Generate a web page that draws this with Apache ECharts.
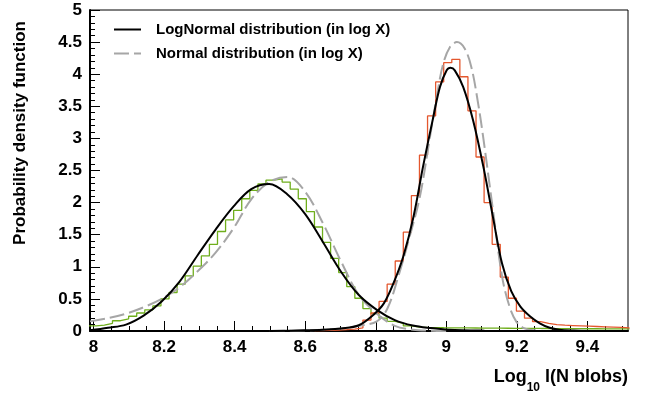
<!DOCTYPE html>
<html>
<head>
<meta charset="utf-8">
<script src="https://cdn.jsdelivr.net/npm/echarts@6/dist/echarts.min.js"></script>
<style>
html, body { margin: 0; padding: 0; background: #fff; }
#chart { width: 647px; height: 396px; }
</style>
</head>
<body>
<div id="chart"></div>
<script>
// histogram binning (both samples share it)
const binStart = 7.985;
const binWidth = 0.0229;

// first sample (green) and second sample (red), one value per bin
const greenHist = [0.08, 0.09, 0.12, 0.16, 0.19, 0.23, 0.28, 0.33, 0.39, 0.50,
    0.60, 0.73, 0.86, 1.01, 1.17, 1.35, 1.55, 1.73, 1.88, 2.06,
    2.19, 2.29, 2.35, 2.37, 2.32, 2.21, 2.06, 1.86, 1.62, 1.38,
    1.13, 0.91, 0.69, 0.51, 0.35, 0.27, 0.20, 0.15, 0.12, 0.08,
    0.06, 0.055, 0.053, 0.051, 0.05, 0.049, 0.048, 0.047, 0.046, 0.045,
    0.044, 0.043, 0.042, 0.041, 0.040, 0.040, 0.039, 0.038, 0.037, 0.037,
    0.036, 0.035, 0.035, 0.034, 0.034, 0.033, 0.033];
const redHist = [null, null, null, null, null, null, null, null, null, null,
    null, null, null, null, null, null, null, null, null, null,
    null, null, null, null, null, null, null, null, 0.005, 0.01,
    0.015, 0.02, 0.03, 0.05, 0.17, 0.28, 0.46, 0.73, 1.09, 1.54,
    2.11, 2.74, 3.35, 3.88, 4.18, 4.23, 3.96, 3.43, 2.71, 2.00,
    1.35, 0.84, 0.51, 0.31, 0.20, 0.145, 0.12, 0.10, 0.09, 0.085,
    0.08, 0.075, 0.07, 0.065, 0.06, 0.055, 0.05];

// fitted curves as [log10 x, pdf]
const logNormalLow = [[7.99, 0.01], [8.041, 0.05], [8.092, 0.10], [8.142, 0.24], [8.193, 0.46],
    [8.244, 0.77], [8.295, 1.18], [8.346, 1.58], [8.397, 1.94], [8.447, 2.21],
    [8.498, 2.29], [8.549, 2.13], [8.600, 1.82], [8.651, 1.38], [8.702, 0.92],
    [8.752, 0.56], [8.803, 0.33], [8.854, 0.17], [8.905, 0.085], [8.956, 0.045],
    [9.006, 0.02], [9.108, 0.005], [9.21, 0.0], [9.515, 0.0]];
const normalLow = [[7.99, 0.15], [8.041, 0.20], [8.092, 0.27], [8.142, 0.37], [8.193, 0.50],
    [8.244, 0.68], [8.295, 0.93], [8.346, 1.22], [8.397, 1.60], [8.447, 2.05],
    [8.498, 2.32], [8.549, 2.40], [8.600, 2.17], [8.651, 1.67], [8.702, 1.08],
    [8.752, 0.56], [8.803, 0.27], [8.854, 0.08], [8.905, 0.02], [8.956, 0.005], [9.0, 0.0]];
const logNormalHigh = [[8.5, 0.0], [8.600, 0.01], [8.651, 0.02], [8.702, 0.04], [8.752, 0.09],
    [8.793, 0.25], [8.823, 0.43], [8.850, 0.74], [8.878, 1.16], [8.907, 1.78],
    [8.934, 2.56], [8.963, 3.33], [8.982, 3.80], [9.001, 4.06], [9.012, 4.10],
    [9.024, 4.06], [9.048, 3.80], [9.076, 3.28], [9.105, 2.56], [9.133, 1.75],
    [9.158, 1.05], [9.184, 0.62], [9.210, 0.38], [9.237, 0.23], [9.265, 0.12],
    [9.293, 0.05], [9.320, 0.02], [9.361, 0.007], [9.412, 0.0], [9.515, 0.0]];
const normalHigh = [[8.5, 0.0], [8.600, 0.01], [8.651, 0.02], [8.702, 0.04], [8.752, 0.08],
    [8.803, 0.15], [8.833, 0.35], [8.864, 0.85], [8.895, 1.45], [8.925, 2.09],
    [8.953, 3.0], [8.976, 3.75], [8.991, 4.16], [9.010, 4.42], [9.030, 4.50],
    [9.052, 4.40], [9.071, 4.11], [9.090, 3.55], [9.105, 3.0], [9.133, 1.85],
    [9.158, 0.85], [9.178, 0.40], [9.198, 0.15], [9.218, 0.05], [9.25, 0.01], [9.3, 0.0]];

const xLabels = [8, 8.2, 8.4, 8.6, 8.8, 9, 9.2, 9.4];

const font = '"Liberation Sans", Arial, Helvetica, sans-serif';
const LOGN = 'LogNormal distribution (in log X)';
const NORM = 'Normal distribution (in log X)';

function stepPoints(values) {
    const pts = [];
    values.forEach((v, i) => {
        if (v === null) return;
        const x0 = binStart + i * binWidth;
        pts.push([x0, v], [x0 + binWidth, v]);
    });
    return pts;
}

// minor x ticks every 0.05
const minorX = [];
for (let k = 0; k <= 30; k++) {
    if (k % 4 !== 0) minorX.push(+(8 + k * 0.05).toFixed(2));
}

const chart = echarts.init(document.getElementById('chart'), null, { renderer: 'canvas' });

const curve = (name, data, color, dash) => ({
    name: name,
    type: 'line',
    data: data,
    smooth: 0.35,
    symbol: 'none',
    showSymbol: false,
    lineStyle: { color: color, width: 2, type: dash ? [15, 5] : 'solid' },
    itemStyle: { color: color }
});

const option = {
    animation: false,
    backgroundColor: '#fff',
    grid: {
        left: 90, right: 19, top: 10, bottom: 65,
        show: true, borderColor: '#000', borderWidth: 1
    },
    legend: {
        data: [LOGN, NORM],
        orient: 'vertical',
        left: 108, top: 17,
        itemWidth: 27, itemHeight: 14, itemGap: 9,
        selectedMode: false,
        itemStyle: { opacity: 0 },
        textStyle: { fontFamily: font, fontWeight: 'bold', fontSize: 15, color: '#000', padding: [0, 0, 0, 10] }
    },
    xAxis: [{
        type: 'value', min: 7.99, max: 9.515,
        axisLine: { lineStyle: { color: '#000', width: 2 } },
        axisTick: { inside: true, length: 10, customValues: xLabels, lineStyle: { color: '#000', width: 1 } },
        axisLabel: { customValues: xLabels, margin: 8, color: '#000', fontFamily: font, fontWeight: 'bold', fontSize: 17 },
        splitLine: { show: false }
    }, {
        type: 'value', min: 7.99, max: 9.515, position: 'bottom',
        axisLine: { show: false },
        axisTick: { inside: true, length: 5, customValues: minorX, lineStyle: { color: '#000', width: 1 } },
        axisLabel: { show: false },
        splitLine: { show: false }
    }],
    yAxis: {
        type: 'value', min: 0, max: 5, interval: 0.5,
        axisLine: { show: true, lineStyle: { color: '#000', width: 2 } },
        axisTick: { show: true, inside: true, length: 10, lineStyle: { color: '#000', width: 1 } },
        minorTick: { show: true, splitNumber: 5, length: 5, lineStyle: { color: '#000', width: 1 } },
        axisLabel: { margin: 8, color: '#000', fontFamily: font, fontWeight: 'bold', fontSize: 17 },
        splitLine: { show: false }
    },
    graphic: [{
        type: 'text',
        x: 20, y: 133,
        rotation: Math.PI / 2,
        style: {
            text: 'Probability density function',
            font: 'bold 17px ' + font,
            fill: '#000',
            align: 'center', verticalAlign: 'middle',
            textAlign: 'center', textVerticalAlign: 'middle'
        }
    }, {
        type: 'text',
        x: 628, y: 377,
        style: {
            text: '{a|Log}{b|10}{a| l(N blobs)}',
            align: 'right', verticalAlign: 'middle',
            textAlign: 'right', textVerticalAlign: 'middle',
            fill: '#000',
            rich: {
                a: { fontFamily: font, fontWeight: 'bold', fontSize: 18, fill: '#000', color: '#000' },
                b: { fontFamily: font, fontWeight: 'bold', fontSize: 12, fill: '#000', color: '#000', padding: [22, 0, 0, 0] }
            }
        }
    }],
    series: [
        {
            type: 'line', data: stepPoints(greenHist), symbol: 'none', silent: true,
            lineStyle: { color: '#6fae1c', width: 1.3 }
        },
        {
            type: 'line', data: stepPoints(redHist), symbol: 'none', silent: true,
            lineStyle: { color: '#e4572e', width: 1.3 }
        },
        curve(NORM, normalLow, '#a6a6a6', true),
        curve(NORM, normalHigh, '#a6a6a6', true),
        curve(LOGN, logNormalLow, '#000', false),
        curve(LOGN, logNormalHigh, '#000', false)
    ]
};

chart.setOption(option);
</script>
</body>
</html>
